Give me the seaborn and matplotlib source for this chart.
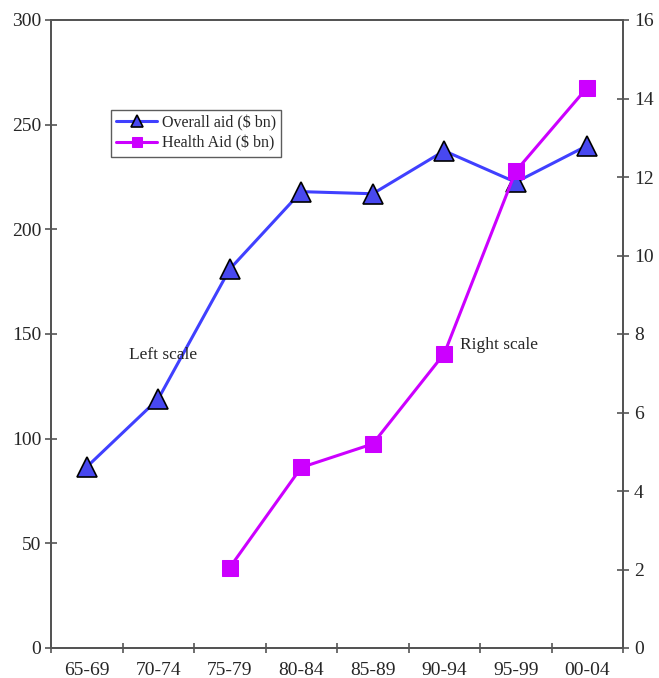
import numpy as np
import pandas as pd
import matplotlib
matplotlib.use("Agg")
import matplotlib.pyplot as plt
import seaborn as sns

periods = ["65-69", "70-74", "75-79", "80-84", "85-89", "90-94", "95-99", "00-04"]
overall_aid = [86.5, 119, 181, 218, 217, 237.5, 222.5, 240]
health_aid = [np.nan, np.nan, 2.05, 4.6, 5.2, 7.5, 12.15, 14.28]

sns.set_style("white")
plt.rcParams["font.family"] = ["Liberation Serif", "DejaVu Serif"]

df = pd.DataFrame({"pos": np.arange(len(periods)),
                   "overall": overall_aid,
                   "health": health_aid})

fig = plt.figure(figsize=(6.59, 6.78), dpi=100)
ax = fig.add_axes([51 / 659, 30 / 678, 572 / 659, 628 / 678])
ax2 = ax.twinx()

sns.lineplot(data=df, x="pos", y="overall", ax=ax, color="#4040ff", lw=2.2,
             marker="^", markersize=14, markerfacecolor="#4848f0",
             markeredgecolor="black", markeredgewidth=1.2,
             label="Overall aid ($ bn)", legend=False)
sns.lineplot(data=df.dropna(), x="pos", y="health", ax=ax2, color="#cc00ff", lw=2.2,
             marker="s", markersize=12, markerfacecolor="#cc00ff",
             markeredgecolor="#cc00ff", label="Health Aid ($ bn)", legend=False)

ax.set_xlim(-0.5, len(periods) - 0.5)
ax.set_ylim(0, 300)
ax2.set_ylim(0, 16)
ax.set_yticks(range(0, 301, 50))
ax2.set_yticks(range(0, 17, 2))

ax.set_xticks(np.arange(len(periods) + 1) - 0.5)
ax.set_xticklabels([])
ax.set_xticks(np.arange(len(periods)), minor=True)
ax.set_xticklabels(periods, minor=True)
ax.tick_params(axis="x", which="major", direction="inout", length=7, width=1.2, color="#555555", bottom=True)
ax.tick_params(axis="x", which="minor", length=0, pad=10, labelsize=14)
ax.tick_params(axis="y", direction="inout", length=8, width=1.2, color="#555555", left=True, labelsize=14, pad=3)
ax2.tick_params(axis="y", direction="inout", length=8, width=1.2, color="#555555", right=True, labelsize=14, pad=4)

ax.set_xlabel("")
ax.set_ylabel("")
ax2.set_ylabel("")
for a in (ax, ax2):
    for s in ("left", "right", "bottom", "top"):
        a.spines[s].set_color("#555555")
        a.spines[s].set_linewidth(1.4)

ax.text(1.07, 140, "Left scale", fontsize=12.5, ha="center", va="center")
ax2.text(5.77, 7.72, "Right scale", fontsize=12.5, ha="center", va="center")

h1, l1 = ax.get_legend_handles_labels()
h2, l2 = ax2.get_legend_handles_labels()
leg = ax.legend(h1 + h2, l1 + l2, loc="upper left",
                bbox_to_anchor=((111 - 51) / 572, (648 - 110) / 628),
                fontsize=11.5, frameon=True, fancybox=False, edgecolor="#333333",
                borderpad=0.3, handlelength=2.6, labelspacing=0.3, handletextpad=0.3,
                borderaxespad=0, markerscale=0.6)
leg.get_frame().set_linewidth(1.0)

fig.savefig("out.png", dpi=100)
